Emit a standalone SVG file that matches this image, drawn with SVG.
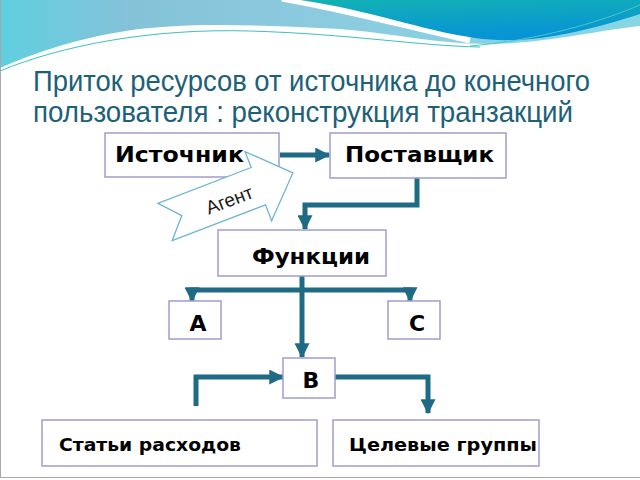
<svg xmlns="http://www.w3.org/2000/svg" width="640" height="480" viewBox="0 0 640 480">
<defs>
<linearGradient id="gLight" x1="0" y1="0" x2="1" y2="0">
<stop offset="0" stop-color="#5fcfe0"/>
<stop offset="0.2" stop-color="#84c2d8"/>
<stop offset="0.5" stop-color="#8ccbdf"/>
<stop offset="1" stop-color="#86d6e4"/>
</linearGradient>
<linearGradient id="gDark" x1="0" y1="0" x2="0.3" y2="1">
<stop offset="0" stop-color="#12b2b4"/>
<stop offset="1" stop-color="#0793d6"/>
</linearGradient>
<marker id="ah" markerUnits="userSpaceOnUse" markerWidth="15" markerHeight="15" viewBox="0 0 12 12" refX="11" refY="6" orient="auto">
<path d="M0,0 L12,6 L0,12 Z" fill="#1f6b86"/>
</marker>
<style>
.box{fill:#ffffff;stroke:#9d9dd2;stroke-width:1.5}
.lbl{font-family:"DejaVu Sans",Verdana,sans-serif;font-weight:bold;fill:#000000}
.con{fill:none;stroke:#1f6b86;stroke-width:5;stroke-linejoin:miter}
.title{font-family:"Liberation Sans",Arial,sans-serif;font-size:29px;fill:#1d6079}
</style>
</defs>
<rect x="0" y="0" width="640" height="480" fill="#ffffff"/>
<g id="banner">
<path d="M0,0 H640 V26 C600,30 540,44 490,44 C430,44 380,30 320,28 C250,25 180,22 120,32 C70,40 30,55 0,68 Z" fill="url(#gLight)"/>
<path d="M282,-2 C340,8 400,24 470,40" fill="none" stroke="#ffffff" stroke-width="7"/>
<path d="M300,0 C370,10 420,30 475,38 C530,46 590,30 640,14 V0 Z" fill="url(#gDark)"/>
<path d="M0,71 C60,46 150,28 250,31 C350,34 420,46 480,47" fill="none" stroke="#3dbfc2" stroke-width="1"/>
<path d="M470,46 C540,40 600,22 640,5" fill="none" stroke="#4cc8be" stroke-width="1"/>
</g>
<line x1="0.5" y1="0" x2="0.5" y2="478" stroke="#a8a8a8" stroke-width="1"/>
<line x1="0" y1="477.5" x2="640" y2="477.5" stroke="#a8a8a8" stroke-width="1"/>
<g id="title">
<text class="title" x="33" y="91" textLength="557" lengthAdjust="spacingAndGlyphs">Приток ресурсов от источника до конечного</text>
<text class="title" x="33" y="122" textLength="540" lengthAdjust="spacingAndGlyphs">пользователя : реконструкция транзакций</text>
</g>
<g id="connectors">
<path class="con" d="M280,155 H329" marker-end="url(#ah)"/>
<path class="con" d="M417,178 V205 H305 V229" marker-end="url(#ah)"/>
<path class="con" d="M302,276 V357" marker-end="url(#ah)"/>
<path class="con" d="M302,290 H192 V301" marker-end="url(#ah)"/>
<path class="con" d="M302,290 H410 V301" marker-end="url(#ah)"/>
<path class="con" d="M196,406 V377 H283" marker-end="url(#ah)"/>
<path class="con" d="M335,377 H428 V413" marker-end="url(#ah)"/>
</g>
<g id="node-source">
<rect class="box" x="105" y="133" width="174" height="44"/>
<text class="lbl" x="115" y="162" font-size="22" textLength="129" lengthAdjust="spacingAndGlyphs">Источник</text>
</g>
<g id="node-supplier">
<rect class="box" x="330" y="133" width="176" height="45"/>
<text class="lbl" x="345" y="162" font-size="22" textLength="149" lengthAdjust="spacingAndGlyphs">Поставщик</text>
</g>
<g id="node-agent">
<g transform="translate(165,222) rotate(-21)">
<polygon points="0,-20 100,-20 100,-37 137,0 100,37 100,20 0,20 18,0" fill="#ffffff" stroke="#6cb6d4" stroke-width="1.3"/>
<text x="68" y="9" font-family="Liberation Sans, Arial, sans-serif" font-size="19" fill="#1a1a1a" text-anchor="middle">Агент</text>
</g>
</g>
<g id="node-functions">
<rect class="box" x="218" y="230" width="168" height="46"/>
<text class="lbl" x="252" y="264" font-size="22" textLength="118" lengthAdjust="spacingAndGlyphs">Функции</text>
</g>
<g id="node-a">
<rect class="box" x="169" y="301" width="52" height="38"/>
<text class="lbl" x="198" y="331" font-size="22" text-anchor="middle">А</text>
</g>
<g id="node-c">
<rect class="box" x="388" y="301" width="52" height="38"/>
<text class="lbl" x="417" y="331" font-size="22" text-anchor="middle">С</text>
</g>
<g id="node-b">
<rect class="box" x="283" y="358" width="52" height="40"/>
<text class="lbl" x="311" y="388" font-size="22" text-anchor="middle">В</text>
</g>
<g id="node-expenses">
<rect class="box" x="42" y="420" width="275" height="46"/>
<text class="lbl" x="59" y="451" font-size="18" textLength="182" lengthAdjust="spacingAndGlyphs">Статьи расходов</text>
</g>
<g id="node-targets">
<rect class="box" x="333" y="420" width="206" height="46"/>
<text class="lbl" x="349" y="451" font-size="18" textLength="188" lengthAdjust="spacingAndGlyphs">Целевые группы</text>
</g>
</svg>
